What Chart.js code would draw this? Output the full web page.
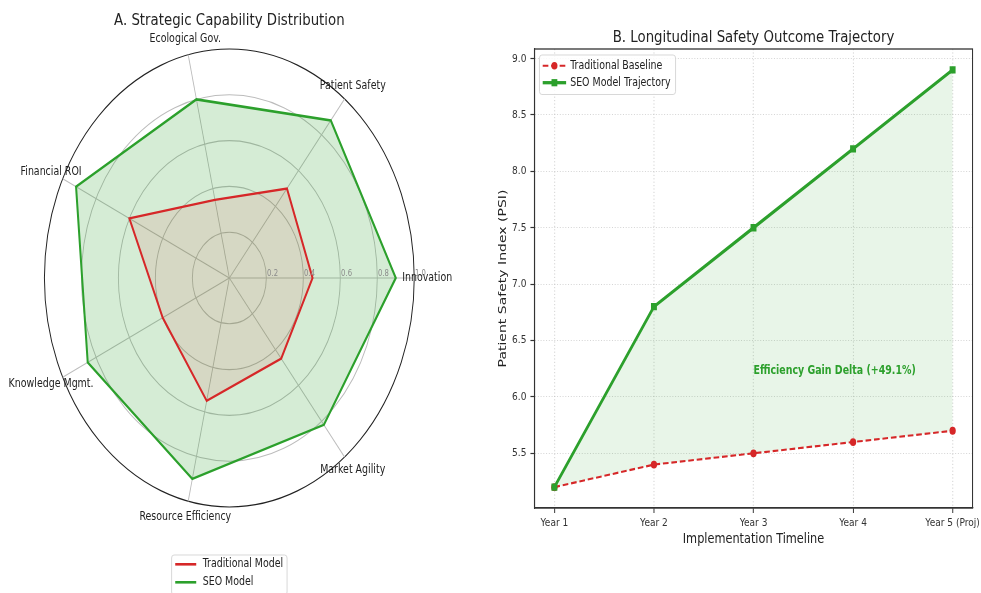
<!DOCTYPE html>
<html>
<head>
<meta charset="utf-8">
<title>Strategic Capability / Safety Trajectory</title>
<script src="https://cdn.jsdelivr.net/npm/chart.js@4.4.1/dist/chart.umd.min.js"></script>
<style>
  html, body { margin: 0; padding: 0; background: #fff; overflow: hidden; }
  /* boxes keep the charts' logical size; the canvases are squeezed to the page */
  #radarBox { position: absolute; left: 0; top: 0; width: 570px; height: 593px; }
  #lineBox { position: absolute; left: 484px; top: 0; width: 615px; height: 593px; }
</style>
</head>
<body>
<div id="radarBox"><canvas id="radarChart"></canvas></div>
<div id="lineBox"><canvas id="lineChart"></canvas></div>
<script>
// ---- data: panel A (counter-clockwise from Innovation) ----
const capabilityLabels = ['Innovation', 'Patient Safety', 'Ecological Gov.', 'Financial ROI',
                          'Knowledge Mgmt.', 'Resource Efficiency', 'Market Agility'];
const traditionalScores = [0.45, 0.50, 0.35, 0.60, 0.40, 0.55, 0.45];
const seoScores = [0.90, 0.88, 0.80, 0.92, 0.85, 0.90, 0.82];
const radarTicks = [0.2, 0.4, 0.6, 0.8, 1.0];

// ---- data: panel B ----
const years = ['Year 1', 'Year 2', 'Year 3', 'Year 4', 'Year 5 (Proj)'];
const traditionalPSI = [5.2, 5.4, 5.5, 5.6, 5.7];
const seoPSI = [5.2, 6.8, 7.5, 8.2, 8.9];
const psiTicks = [5.5, 6.0, 6.5, 7.0, 7.5, 8.0, 8.5, 9.0];
const gainNote = 'Efficiency Gain Delta (+49.1%)';

Chart.defaults.font.family = '"DejaVu Sans", sans-serif';
Chart.defaults.color = '#222';

const RED = '#d62728';
const GREEN = '#2ca02c';
const SX = 0.8075; // the source figure is narrower than it is tall

// draw in the chart's own units, but squeeze horizontally straight into the bitmap
const squeeze = {
  id: 'squeeze',
  beforeDraw(chart) {
    const c = chart.canvas;
    const w = Math.ceil(chart.width * SX);
    if (c.width !== w) {
      c.width = w;
      c.height = Math.round(chart.height);
      c.style.width = w + 'px';
      c.style.height = Math.round(chart.height) + 'px';
    }
    chart.ctx.setTransform(SX, 0, 0, 1, 0, 0);
  }
};

// Chart.js walks clockwise, matplotlib counter-clockwise
const ccw = a => [a[0], ...a.slice(1).reverse()];

function legendBox(ctx, x, y, w, h) {
  ctx.beginPath();
  if (ctx.roundRect) ctx.roundRect(x, y, w, h, 3); else ctx.rect(x, y, w, h);
  ctx.fillStyle = 'rgba(255,255,255,0.85)';
  ctx.fill();
  ctx.strokeStyle = '#d4d4d4';
  ctx.lineWidth = 1;
  ctx.stroke();
}

// labels, tick values, title and legend for the radar
const radarDecor = {
  id: 'radarDecor',
  afterDraw(chart) {
    const r = chart.scales.r;
    const ctx = chart.ctx;
    ctx.save();
    ctx.fillStyle = '#222';
    ctx.textAlign = 'center';
    ctx.textBaseline = 'alphabetic';
    ctx.font = '16.5px "DejaVu Sans"';
    ctx.fillText('A. Strategic Capability Distribution', r.xCenter, 25);

    ctx.textBaseline = 'middle';
    ctx.font = '11.7px "DejaVu Sans"';
    chart.data.labels.forEach((lab, i) => {
      const p = r.getPointPosition(i, r.drawingArea * 1.07);
      ctx.fillText(lab, p.x, p.y);
    });

    ctx.textAlign = 'left';
    ctx.font = '8.5px "DejaVu Sans"';
    ctx.fillStyle = '#8a8a8a';
    radarTicks.forEach(v => {
      ctx.fillText(v.toFixed(1), r.xCenter + r.getDistanceFromCenterForValue(v) + 1, r.yCenter - 4.5);
    });

    // legend below the polar axes
    legendBox(ctx, 212.5, 555, 143, 40);
    ctx.font = '11.7px "DejaVu Sans"';
    ctx.fillStyle = '#222';
    [[RED, 'Traditional Model', 564.3], [GREEN, 'SEO Model', 582.3]].forEach(([c, t, y]) => {
      ctx.strokeStyle = c;
      ctx.lineWidth = 2.6;
      ctx.beginPath();
      ctx.moveTo(217, y);
      ctx.lineTo(243, y);
      ctx.stroke();
      ctx.fillText(t, 251, y);
    });
    ctx.restore();
  }
};

new Chart(document.getElementById('radarChart'), {
  type: 'radar',
  data: {
    labels: ccw(capabilityLabels),
    datasets: [
      {
        label: 'Traditional Model',
        data: ccw(traditionalScores),
        borderColor: RED,
        backgroundColor: 'rgba(214,39,40,0.10)',
        borderWidth: 2.4,
        pointRadius: 0,
        fill: true
      },
      {
        label: 'SEO Model',
        data: ccw(seoScores),
        borderColor: GREEN,
        backgroundColor: 'rgba(44,160,44,0.20)',
        borderWidth: 2.5,
        pointRadius: 0,
        fill: true
      }
    ]
  },
  options: {
    responsive: true,
    maintainAspectRatio: false,
    animation: false,
    devicePixelRatio: 1,
    events: [],
    layout: { padding: { left: 55, right: 56, top: 49, bottom: 85 } },
    elements: { line: { tension: 0 } },
    plugins: { legend: { display: false }, tooltip: { enabled: false } },
    scales: {
      r: {
        min: 0,
        max: 1,
        startAngle: 90,
        ticks: { display: false, stepSize: 0.2 },
        pointLabels: { display: false },
        grid: {
          circular: true,
          color: c => (c.tick && c.tick.value > 0.99 ? '#222' : '#bcbcbc'),
          lineWidth: c => (c.tick && c.tick.value > 0.99 ? 1.2 : 1.1)
        },
        angleLines: { color: '#bcbcbc', lineWidth: 1.1 }
      }
    }
  },
  plugins: [squeeze, radarDecor]
});

// frame, title, note and legend for the trajectory panel
const lineDecor = {
  id: 'lineDecor',
  afterDraw(chart) {
    const { ctx, chartArea: a, scales: { x, y } } = chart;
    ctx.save();
    ctx.strokeStyle = '#333';
    ctx.lineWidth = 1.3;
    ctx.strokeRect(a.left, a.top, a.right - a.left, a.bottom - a.top);

    ctx.fillStyle = '#222';
    ctx.textAlign = 'center';
    ctx.textBaseline = 'alphabetic';
    ctx.font = '16.5px "DejaVu Sans"';
    ctx.fillText('B. Longitudinal Safety Outcome Trajectory', (a.left + a.right) / 2, 42);

    ctx.textAlign = 'left';
    ctx.textBaseline = 'middle';
    ctx.font = 'bold 11.7px "DejaVu Sans"';
    ctx.fillStyle = GREEN;
    ctx.fillText(gainNote, x.getPixelForValue(2), y.getPixelForValue(6.23));

    // legend, upper left
    const lx = 68.7, ly = 55;
    legendBox(ctx, lx, ly, 168.5, 39.5);
    ctx.font = '11.7px "DejaVu Sans"';
    ctx.fillStyle = '#222';
    const r1 = 65.7, r2 = 82.7;
    ctx.strokeStyle = RED;
    ctx.lineWidth = 2;
    ctx.setLineDash([7, 3.5]);
    ctx.beginPath(); ctx.moveTo(lx + 4, r1); ctx.lineTo(lx + 33, r1); ctx.stroke();
    ctx.setLineDash([]);
    ctx.fillStyle = RED;
    ctx.beginPath(); ctx.arc(lx + 18.5, r1, 3.8, 0, Math.PI * 2); ctx.fill();
    ctx.strokeStyle = GREEN;
    ctx.lineWidth = 3.3;
    ctx.beginPath(); ctx.moveTo(lx + 4, r2); ctx.lineTo(lx + 33, r2); ctx.stroke();
    ctx.fillStyle = GREEN;
    ctx.fillRect(lx + 18.5 - 3.6, r2 - 3.6, 7.2, 7.2);
    ctx.fillStyle = '#222';
    ctx.fillText('Traditional Baseline', lx + 38, r1);
    ctx.fillText('SEO Model Trajectory', lx + 38, r2);
    ctx.restore();
  }
};

const gridStyle = { color: 'rgba(185,185,185,0.7)', lineWidth: 1, tickColor: '#333', tickLength: 5, tickWidth: 1.2 };
const axisBorder = { display: true, color: '#333', width: 1.3, dash: [1.2, 2.2] };

new Chart(document.getElementById('lineChart'), {
  type: 'line',
  data: {
    datasets: [
      {
        label: 'Traditional Baseline',
        data: traditionalPSI.map((v, i) => ({ x: i, y: v })),
        borderColor: RED,
        borderWidth: 2.1,
        borderDash: [7, 3.5],
        pointStyle: 'circle',
        pointRadius: 3.9,
        pointBackgroundColor: RED,
        pointBorderColor: RED,
        pointBorderWidth: 0,
        fill: false,
        order: 1
      },
      {
        label: 'SEO Model Trajectory',
        data: seoPSI.map((v, i) => ({ x: i, y: v })),
        borderColor: GREEN,
        borderWidth: 3.3,
        pointStyle: 'rect',
        pointRadius: 5.2,
        pointBackgroundColor: GREEN,
        pointBorderColor: GREEN,
        pointBorderWidth: 0,
        fill: { target: 0, above: 'rgba(44,160,44,0.11)', below: 'rgba(44,160,44,0.11)' },
        order: 0
      }
    ]
  },
  options: {
    responsive: true,
    maintainAspectRatio: false,
    animation: false,
    devicePixelRatio: 1,
    events: [],
    layout: { padding: { top: 49, right: 10, left: 0, bottom: 0 } },
    elements: { line: { tension: 0 } },
    plugins: {
      legend: { display: false },
      tooltip: { enabled: false },
      filler: { drawTime: 'beforeDatasetsDraw' }
    },
    scales: {
      x: {
        type: 'linear',
        min: -0.2,
        max: 4.2,
        afterBuildTicks: s => { s.ticks = years.map((_, i) => ({ value: i })); },
        afterFit: s => { s.height = 85; s.paddingLeft = 0; s.paddingRight = 0; },
        ticks: {
          callback: v => years[v],
          autoSkip: false,
          maxRotation: 0,
          padding: 3,
          color: '#333',
          font: { size: 11.2 }
        },
        grid: gridStyle,
        border: axisBorder,
        title: {
          display: true,
          text: 'Implementation Timeline',
          color: '#222',
          font: { size: 14 },
          padding: { top: 0, bottom: 45.6 }
        }
      },
      y: {
        min: 5.015,
        max: 9.085,
        afterBuildTicks: s => { s.ticks = psiTicks.map(v => ({ value: v })); },
        afterFit: s => { s.width = 62.5; s.paddingTop = 0; s.paddingBottom = 0; },
        ticks: {
          callback: v => Number(v).toFixed(1),
          padding: 5,
          color: '#333',
          font: { size: 11.2 }
        },
        grid: gridStyle,
        border: axisBorder,
        title: {
          display: true,
          text: 'Patient Safety Index (PSI)',
          color: '#222',
          font: { size: 14 },
          padding: { top: 15, bottom: 0 }
        }
      }
    }
  },
  plugins: [squeeze, lineDecor]
});
</script>
</body>
</html>
